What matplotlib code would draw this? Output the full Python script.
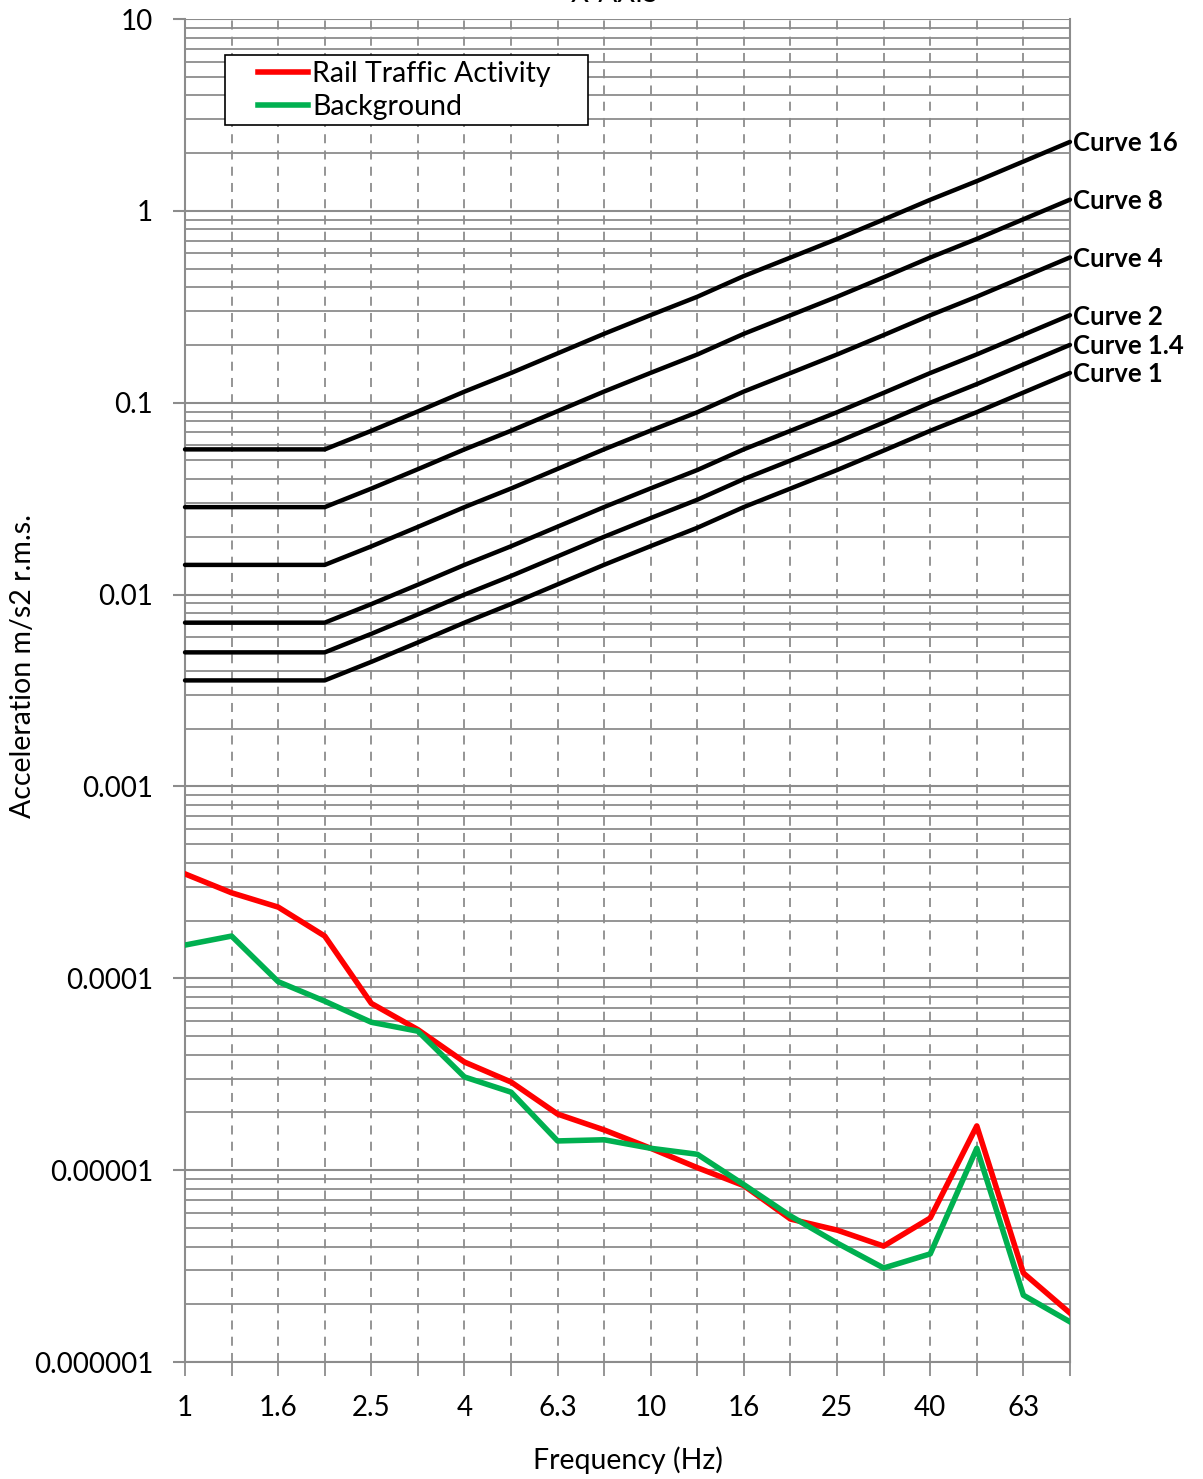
import matplotlib
matplotlib.use('Agg')
import matplotlib.pyplot as plt
from matplotlib.patches import Rectangle
from matplotlib.ticker import LogLocator, NullFormatter, FixedLocator

plt.rcParams['font.family'] = ['Lato', 'DejaVu Sans']

# 1/3 octave band centre frequencies (Hz)
bands = ['1', '1.25', '1.6', '2', '2.5', '3.15', '4', '5', '6.3', '8', '10',
         '12.5', '16', '20', '25', '31.5', '40', '50', '63', '80']

# base curve (curve 1), horizontal axis, m/s2 r.m.s.
base_curve = [0.00357, 0.00357, 0.00357, 0.00357, 0.00446, 0.00563, 0.00714,
              0.00893, 0.0113, 0.0143, 0.0179, 0.0223, 0.0286, 0.0357, 0.0446,
              0.0563, 0.0714, 0.0893, 0.113, 0.143]
curve_factors = [16, 8, 4, 2, 1.4, 1]
curve_names = ['Curve 16', 'Curve 8', 'Curve 4', 'Curve 2', 'Curve 1.4', 'Curve 1']

rail = [3.50e-4, 2.79e-4, 2.35e-4, 1.66e-4, 7.4e-5, 5.4e-5, 3.66e-5, 2.88e-5,
        1.96e-5, 1.62e-5, 1.30e-5, 1.03e-5, 8.3e-6, 5.56e-6, 4.87e-6, 4.02e-6,
        5.63e-6, 1.70e-5, 2.91e-6, 1.80e-6]
background = [1.49e-4, 1.66e-4, 9.6e-5, 7.6e-5, 5.9e-5, 5.3e-5, 3.06e-5, 2.55e-5,
              1.42e-5, 1.44e-5, 1.30e-5, 1.21e-5, 8.4e-6, 5.77e-6, 4.17e-6, 3.09e-6,
              3.66e-6, 1.30e-5, 2.23e-6, 1.62e-6]

ytick_vals = [1e-6, 1e-5, 1e-4, 1e-3, 1e-2, 1e-1, 1, 10]
ytick_labels = ['0.000001', '0.00001', '0.0001', '0.001', '0.01', '0.1', '1', '10']

grid_col = '#8c8c8c'
fig = plt.figure(figsize=(12.03, 14.79), dpi=100)
ax = fig.add_axes([0.1538, 0.0791, 0.8894 - 0.1538, 0.98715 - 0.0791])

x = list(range(len(bands)))
ax.set_yscale('log')
ax.set_xlim(0, len(bands) - 1)
ax.set_ylim(1e-6, 10)

# grid
ax.yaxis.set_major_locator(FixedLocator(ytick_vals))
ax.yaxis.set_minor_locator(LogLocator(base=10, subs=range(2, 10), numticks=50))
ax.yaxis.set_minor_formatter(NullFormatter())
ax.grid(True, which='major', axis='y', color=grid_col, lw=1.5)
ax.grid(True, which='minor', axis='y', color=grid_col, lw=1.3)
ax.grid(True, which='major', axis='x', color=grid_col, lw=1.3, ls=(0, (5, 4)))
ax.set_axisbelow(True)

for name, fac in zip(curve_names, curve_factors):
    vals = [v * fac for v in base_curve]
    ax.plot(x, vals, color='black', lw=3.2, solid_capstyle='round', zorder=3, clip_on=False)
    ax.annotate(name, (x[-1], vals[-1]), xytext=(2, -1), textcoords='offset points',
                fontsize=18.5, fontweight='bold', va='center', ha='left')

ax.plot(x, rail, color='#ff0000', lw=4, label='Rail Traffic Activity', zorder=4)
ax.plot(x, background, color='#00b050', lw=4, label='Background', zorder=4)

ax.set_xticks(x)
ax.set_xticklabels([b if i % 2 == 0 else '' for i, b in enumerate(bands)], fontsize=20)
ax.set_yticks(ytick_vals)
ax.set_yticklabels(ytick_labels, fontsize=20)
ax.tick_params(axis='x', direction='out', length=10, width=1.3, color=grid_col, pad=14)
ax.tick_params(axis='y', which='major', direction='out', length=9, width=1.5, color=grid_col, pad=14)
ax.tick_params(axis='y', which='minor', length=0)

for s in ['left', 'right', 'bottom']:
    ax.spines[s].set_color(grid_col)
    ax.spines[s].set_linewidth(1.5)
ax.spines['top'].set_visible(False)

ax.set_xlabel('Frequency (Hz)', fontsize=20.5)
ax.xaxis.set_label_coords(0.5, -0.063)
ax.set_ylabel('Acceleration m/s2 r.m.s.', fontsize=20.5)
ax.yaxis.set_label_coords(-0.168, 0.518)

# legend with frame drawn separately so the padding matches
leg = ax.legend(loc='center left', bbox_to_anchor=(0.0825, 0.9468), fontsize=20.5,
                frameon=False, handlelength=1.75, handletextpad=0.15,
                borderpad=0, labelspacing=0.22, borderaxespad=0)
ax.add_patch(Rectangle((0.0452, 0.9211), 0.410, 0.0521, transform=ax.transAxes,
                       facecolor='white', edgecolor='black', lw=1.2, zorder=5))
leg.set_zorder(6)

fig.text(0.511, 0.9985, 'X-AXIS', fontsize=20, ha='center', va='baseline')

fig.savefig('out.png', dpi=100)
